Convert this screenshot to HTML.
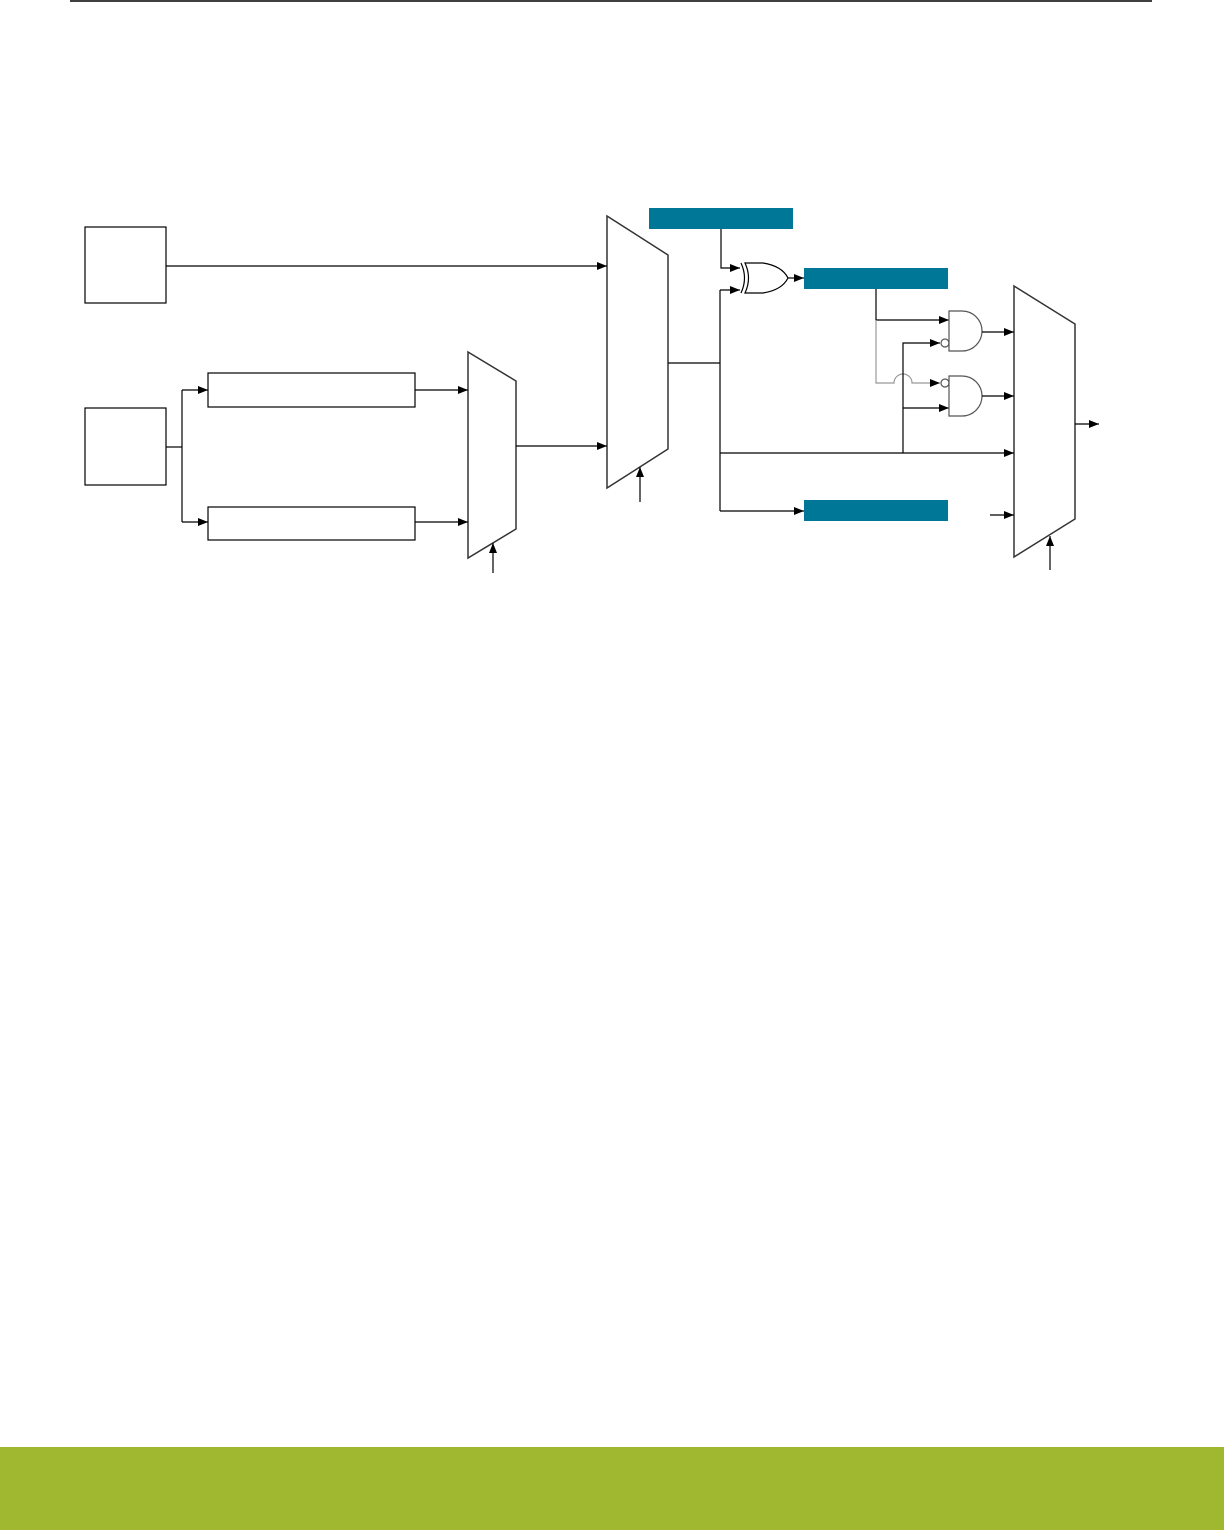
<!DOCTYPE html>
<html><head><style>html,body{margin:0;padding:0;background:#fff;width:1224px;height:1530px;overflow:hidden}</style></head>
<body>
<svg width="1224" height="1530" xmlns="http://www.w3.org/2000/svg" style="display:block">
<defs>
<marker id="a" markerWidth="10" markerHeight="8" refX="10" refY="4" orient="auto" markerUnits="userSpaceOnUse"><path d="M0,0 L10,4 L0,8 z" fill="#000"/></marker>
</defs>
<line x1="70" y1="1" x2="1152" y2="1" stroke="#000" stroke-width="1.5"/>
<rect x="0" y="1447" width="1224" height="83" fill="#a0b82f"/>
<g fill="none" stroke="#000" stroke-width="1.2">
<rect x="85" y="227" width="81" height="76"/>
<rect x="85" y="408" width="81" height="77"/>
<rect x="208" y="373" width="207" height="34"/>
<rect x="208" y="507" width="207" height="33"/>
<polygon points="468,352 516,381 516,529 468,558" stroke="#333" stroke-width="1.5"/>
<polygon points="607,216 668,255 668,449 607,488" stroke="#333" stroke-width="1.5"/>
<polygon points="1014,286 1075,324 1075,519 1014,557" stroke="#333" stroke-width="1.5"/>
<path d="M166,266 H607" marker-end="url(#a)"/>
<path d="M166,447 H182"/>
<path d="M182,390 V522"/>
<path d="M182,390 H208" marker-end="url(#a)"/>
<path d="M182,522 H208" marker-end="url(#a)"/>
<path d="M415,390 H468" marker-end="url(#a)"/>
<path d="M415,522 H468" marker-end="url(#a)"/>
<path d="M493,573 V543" marker-end="url(#a)"/>
<path d="M516,446 H607" marker-end="url(#a)"/>
<path d="M640,502 V467" marker-end="url(#a)"/>
<path d="M668,363 H720"/>
<path d="M720,290 V511"/>
<path d="M720,290 H740" marker-end="url(#a)"/>
<path d="M721,229 V268 H740" marker-end="url(#a)"/>
<path d="M720,511 H804" marker-end="url(#a)"/>
<path d="M720,453 H1014" marker-end="url(#a)"/>
<path d="M741,263 Q748,278 741,293"/>
<path d="M745,263 H763 Q782,266 788,278 Q782,290 763,293 H745 Q752,278 745,263 z"/>
<path d="M788,278 H804" marker-end="url(#a)"/>
<path d="M876,289 V320 H949" marker-end="url(#a)"/>
<path d="M876,320 V383 H894 A9,9 0 0 1 912,383 H940" stroke="#999" marker-end="url(#a)"/>
<path d="M903,453 V343 H940" marker-end="url(#a)"/>
<path d="M903,408 H949" marker-end="url(#a)"/>
<path d="M949,311 H962 A20,20 0 0 1 962,351 H949 z" stroke="#555"/>
<path d="M949,376 H962 A20,20 0 0 1 962,416 H949 z" stroke="#555"/>
<circle cx="945" cy="343" r="4" stroke="#555"/>
<circle cx="945" cy="383" r="4" stroke="#555"/>
<path d="M982,332 H1014" marker-end="url(#a)"/>
<path d="M982,396 H1014" marker-end="url(#a)"/>
<path d="M990,515 H1014" marker-end="url(#a)"/>
<path d="M1075,424 H1099" marker-end="url(#a)"/>
<path d="M1050,570 V536" marker-end="url(#a)"/>
</g>
<rect x="649" y="208" width="144" height="21" fill="#007796"/>
<rect x="804" y="268" width="144" height="21" fill="#007796"/>
<rect x="804" y="500" width="144" height="21" fill="#007796"/>
</svg>
</body></html>
